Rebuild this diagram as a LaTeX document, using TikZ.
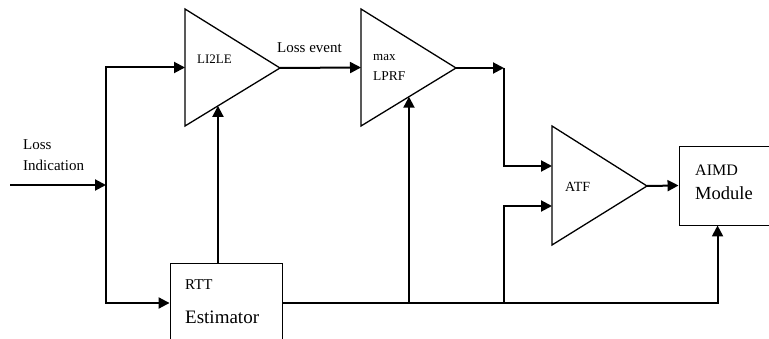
\documentclass[tikz,border=0pt]{standalone}
\usepackage{fontspec}
\setmainfont{Liberation Serif}
\usetikzlibrary{positioning,arrows.meta,calc}
\tikzset{
  amp/.style  ={draw=black, line width=1.3pt, line join=miter},
  blk/.style  ={draw=black, line width=0.9pt, inner sep=0pt},
  ar/.style   ={-{Triangle[length=11pt,width=11pt]}, line width=2pt},
  ln/.style   ={line width=2pt},
  lbl/.style  ={font=\fontsize{#1}{#1}\selectfont, anchor=west, inner sep=0pt},
  lbl/.default=14,
}

\begin{document}
\begin{tikzpicture}[x=1pt,y=-1pt]
\useasboundingbox (0,0) rectangle (769,339);
% the three triangle blocks
\coordinate (le-tl) at (185,9);   \coordinate (le-bl) at (185,126); \coordinate (le-tip) at (280,68);
\coordinate (lp-tl) at (361,9);   \coordinate (lp-bl) at (361,126); \coordinate (lp-tip) at (456,68);
\coordinate (at-tl) at (552,126); \coordinate (at-bl) at (552,245); \coordinate (at-tip) at (647,186);
\draw[amp] (le-tl) -- (le-tip) -- (le-bl) -- cycle;
\draw[amp] (lp-tl) -- (lp-tip) -- (lp-bl) -- cycle;
\draw[amp] (at-tl) -- (at-tip) -- (at-bl) -- cycle;
\coordinate (le-in) at ($(le-tl)!0.5!(le-bl)$);
\coordinate (lp-in) at ($(lp-tl)!0.5!(lp-bl)$);
\coordinate (le-lo) at ($(le-bl)!0.347!(le-tip)$);
\coordinate (lp-lo) at ($(lp-bl)!0.505!(lp-tip)$);
\coordinate (at-in1) at (552,166);
\coordinate (at-in2) at (552,206);
% boxes
\node[blk, minimum width=112pt, minimum height=80pt] (rtt) at (226,303) {};
\node[blk, minimum width=93pt, minimum height=79pt] (aimd) at (725.5,185.5) {};
\coordinate (aimd-in) at ($(aimd.south west)+(39,0)$);
% texts
\node[lbl=15] (li1) at (23,145) {Loss};
\node[lbl=15] (li2) at (23,165) {Indication};
\node[lbl=13] (le-t) at (197,59) {LI2LE};
\node[lbl=15] (ev) at (277,48) {Loss event};
\node[lbl=13] (lp-t1) at (373,58) {max};
\node[lbl=13.5] (lp-t2) at (373,76) {LPRF};
\node[lbl=15] (rtt-t1) at (185,285) {RTT};
\node[lbl=19] (rtt-t2) at (185,317) {Estimator};
\node[lbl=14] (at-t) at (565,187) {ATF};
\node[lbl=16] (aimd-t1) at (695,170) {AIMD};
\node[lbl=18.5] (aimd-t2) at (695,193) {Module};
% connectors
\coordinate (src) at (10,185);
\coordinate (split) at (106,185);
\coordinate (j1) at (504,68);
\coordinate (j2) at (j1 |- rtt.east);
\draw[ar] (src) -- (split);
\draw[ar] (split) |- (le-in);
\draw[ar] (split) |- (rtt.west);
\draw[ar] (le-lo |- rtt.north) -- (le-lo);
\draw[ar] (le-tip) -- (lp-in);
\draw[ar] (lp-tip) -- (j1);
\draw[ar] (j1) |- (at-in1);
\draw[ar] (rtt.east) -| (aimd-in);
\draw[ar] (lp-lo |- rtt.east) -- (lp-lo);
\draw[ar] (j2) |- (at-in2);
\draw[ar] (at-tip) -- (aimd.west);
\end{tikzpicture}
\end{document}
